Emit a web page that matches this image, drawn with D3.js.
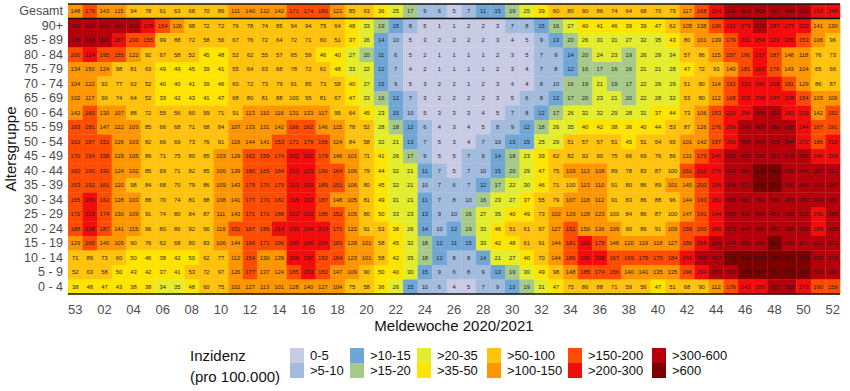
<!DOCTYPE html>
<html><head><meta charset="utf-8">
<script src="https://cdn.jsdelivr.net/npm/d3@7"></script>
<style>
html,body{margin:0;padding:0;background:#fff;}
svg{display:block;font-family:"Liberation Sans",Arial,sans-serif;}
</style></head>
<body><svg id="c" width="850" height="391"></svg>
<script>
const weeks = ["53","01","02","03","04","05","06","07","08","09","10","11","12","13","14","15","16","17","18","19","20","21","22","23","24","25","26","27","28","29","30","31","32","33","34","35","36","37","38","39","40","41","42","43","44","45","46","47","48","49","50","51","52"];
const xTickLabels = ["53","02","04","06","08","10","12","14","16","18","20","22","24","26","28","30","32","34","36","38","40","42","44","46","48","50","52"];
const ageGroups = ["Gesamt","90+","85 - 89","80 - 84","75 - 79","70 - 74","65 - 69","60 - 64","55 - 59","50 - 54","45 - 49","40 - 44","35 - 39","30 - 34","25 - 29","20 - 24","15 - 19","10 - 14","5 - 9","0 - 4"];

const gesamt = [148,179,143,115,94,78,61,63,68,70,86,111,140,132, 142,171,174,180,121,85,63,36,25,17,9,6,5, 7,11,15,19,25,39,60,80,90,86,74,64,68, 70,79,117,168,214,326,423,458,467,406,320,233,248];
const age90 = [390,550,506,461,341,229,154,126,98,72,72,76,78,74, 85,94,94,75,64,48,33,19,15,8,5,1,1, 2,2,3,7,8,15,16,27,40,41,46,39,39, 47,62,105,138,196,221,279,316,287,273,222,141,130];
const age85 = [336,368,326,267,200,155,99,88,72,58,56,67,76,72, 64,72,71,60,51,37,26,14,10,5,3,2,2, 2,2,3,4,5,9,13,20,26,31,31,27,32, 35,43,80,101,139,179,231,254,223,205,153,106,96];
const age80 = [200,224,195,155,122,92,67,58,52,45,48,52,62,55, 57,65,59,46,40,27,20,11,6,5,2,1,1, 1,1,2,3,5,7,9,14,20,24,23,19,26, 29,34,57,86,115,157,196,217,187,148,118,76,73];
const age75 = [134,150,124,98,81,63,49,49,45,39,41,55,64,63, 68,78,72,61,48,33,22,12,7,4,2,1,1, 1,1,2,3,4,7,8,12,16,17,16,16,21, 21,28,47,72,93,140,181,202,176,143,104,65,66];
const age70 = [104,122,92,77,62,52,40,40,41,39,46,60,72,73, 79,91,85,73,58,40,27,15,9,5,3,2,2, 1,2,3,4,4,8,10,16,19,21,19,17,22, 26,29,51,80,114,163,220,240,218,181,129,86,87];
const age65 = [102,117,90,74,64,52,39,42,43,41,47,68,80,81, 88,100,95,81,67,47,33,16,12,7,3,2,2, 2,2,3,5,6,8,12,17,20,23,21,20,22, 28,32,53,80,112,168,225,258,247,208,154,103,106];
const age60 = [142,160,130,107,88,72,55,56,60,59,71,91,113,110, 116,131,133,117,95,64,45,23,15,10,5,3,3, 3,4,5,7,8,12,17,26,32,32,29,28,31, 37,44,73,106,153,223,294,346,332,282,215,142,152];
const age55 = [163,181,147,122,103,85,66,68,71,68,84,107,133,131, 142,166,162,146,115,78,52,28,18,12,6,4,3, 4,5,8,9,12,18,26,35,40,42,38,36,40, 44,53,87,126,176,266,343,400,380,318,244,167,191];
const age50 = [162,187,151,126,103,82,66,69,73,76,91,116,144,141, 153,171,179,156,124,84,58,32,21,13,7,5,3, 4,7,10,13,15,25,29,51,57,57,51,45,51, 54,65,101,142,197,290,388,440,415,344,272,186,215];
const age45 = [170,194,158,129,105,89,71,75,80,85,103,129,162,159, 174,202,202,179,146,101,71,41,26,17,9,5,5, 7,9,14,18,23,39,62,82,92,90,75,66,69, 76,86,131,179,241,380,486,536,521,478,343,240,258];
const age40 = [160,190,190,124,102,85,69,71,82,85,106,139,180,165, 184,213,215,190,164,106,79,44,32,21,11,7,5, 7,10,15,20,29,47,75,103,113,108,89,78,83, 87,100,151,211,276,419,580,609,643,560,443,367,323];
const age35 = [153,192,161,120,98,84,68,70,79,86,109,143,179,170, 179,213,203,189,151,106,80,45,32,21,10,7,6, 7,12,17,22,30,46,71,100,113,110,91,80,86, 89,101,145,200,266,400,531,628,630,500,466,326,347];
const age30 = [165,206,162,128,103,88,70,74,81,88,108,141,177,170, 182,215,202,187,148,105,81,49,31,21,11,7,8, 10,16,23,27,37,55,79,107,118,112,91,83,86, 88,96,144,193,250,365,481,554,536,483,387,304,363];
const age25 = [172,219,174,130,109,91,74,80,84,87,111,143,171,171, 188,222,220,188,152,105,80,50,33,23,13,9,10, 16,27,35,40,49,73,102,129,128,123,100,84,86, 87,100,147,191,244,350,431,468,482,388,332,290,388];
const age20 = [188,238,187,141,115,96,80,86,92,96,119,151,187,186, 214,233,246,210,171,122,91,53,38,26,14,10,12, 19,33,46,51,61,97,127,151,150,136,109,90,89, 91,109,159,200,260,373,447,489,482,398,360,288,428];
const age15 = [129,165,140,109,90,76,62,68,80,83,106,144,166,171, 196,280,266,224,183,128,101,58,45,32,18,12,11, 15,33,42,48,61,91,144,181,202,178,146,120,119, 118,127,180,258,336,478,566,591,629,530,407,312,373];
const age10 = [71,89,73,60,50,46,38,42,50,62,77,112,154,130, 139,206,236,193,164,123,101,58,42,35,18,12,8, 8,14,21,27,40,70,144,186,236,208,167,169,179, 175,184,241,360,417,735,843,1062,1153,971,758,495,378];
const age5 = [52,63,58,50,43,42,37,41,53,72,97,126,177,137, 124,185,233,182,147,109,90,50,40,30,15,9,6, 8,9,13,19,30,49,98,148,185,174,156,140,141, 135,135,196,294,358,541,680,868,860,686,733,503,347];
const age0 = [38,48,47,43,38,38,34,35,48,60,75,102,127,113, 101,128,140,127,104,75,58,36,26,15,10,6,4, 5,7,9,13,19,31,47,75,86,88,71,59,56, 47,51,68,90,112,179,242,289,305,308,273,190,159];

const rowValues = [gesamt,age90,age85,age80,age75,age70,age65,age60,age55,age50,age45,age40,age35,age30,age25,age20,age15,age10,age5,age0];

const legendLabels = ["0-5",">5-10",">10-15",">15-20",">20-35",">35-50",">50-100",">100-150",">150-200",">200-300",">300-600",">600"];
const thresholds = [5.5,10.5,15.5,20.5,35.5,50.5,100.5,150.5,200.5,300.5,600.5];
const colors = ["#C9CBE4","#A3BCDE","#6FA6D6","#A7CA8B","#E3EC2D","#FFE400","#FFC20D","#FF9600","#FF4C00","#F20D0D","#B5000C","#7C0000"];

const svg = d3.select("#c");
const margin = {left:68, right:10, top:4, bottom:97};
const W = 850, H = 391;
const x = d3.scaleBand().domain(weeks).range([margin.left, W - margin.right]).padding(0);
const y = d3.scaleBand().domain(ageGroups).range([margin.top, H - margin.bottom]).padding(0);
const color = d3.scaleThreshold().domain(thresholds).range(colors);

const cells = [];
ageGroups.forEach((g,i)=>{ rowValues[i].forEach((v,j)=>{ cells.push({g, w:weeks[j], v}); }); });

const gC = svg.append("g");
gC.selectAll("rect").data(cells).join("rect")
  .attr("x", d=>x(d.w)).attr("y", d=>y(d.g))
  .attr("width", x.bandwidth()+0.3).attr("height", y.bandwidth()+0.3)
  .attr("fill", d=>color(d.v));
gC.selectAll("text").data(cells).join("text")
  .attr("x", d=>x(d.w)+x.bandwidth()/2).attr("y", d=>y(d.g)+y.bandwidth()/2)
  .attr("text-anchor","middle").attr("dy","0.35em")
  .attr("font-size","5.8px").attr("fill","#1e1e1e")
  .text(d=>d.v);

// separator lines
const lines = [y("Gesamt"), y("90+"), y.range()[1]];
svg.selectAll("line.sep").data(lines).join("line").attr("class","sep")
  .attr("x1", x.range()[0]).attr("x2", x.range()[1])
  .attr("y1", d=>d).attr("y2", d=>d)
  .attr("stroke","#111").attr("stroke-width",1.6);

// axes
const xAxis = d3.axisBottom(x).tickValues(xTickLabels).tickSize(0).tickPadding(11);
const gx = svg.append("g").attr("transform",`translate(0,${y.range()[1]})`).call(xAxis);
gx.select(".domain").remove();
gx.selectAll("text").attr("font-size","13px").attr("fill","#4d4d4d").attr("font-family","Liberation Sans, Arial, sans-serif");

const yAxis = d3.axisLeft(y).tickSize(0).tickPadding(5);
const gy = svg.append("g").attr("transform",`translate(${x.range()[0]},0)`).call(yAxis);
gy.select(".domain").remove();
gy.selectAll("text").attr("font-size","12.5px").attr("fill","#4d4d4d").attr("font-family","Liberation Sans, Arial, sans-serif");

svg.append("text").attr("x",(x.range()[0]+x.range()[1])/2).attr("y",331)
  .attr("text-anchor","middle").attr("font-size","15px").attr("fill","#111")
  .text("Meldewoche 2020/2021");
svg.append("text").attr("transform",`translate(16,${(y.range()[0]+y.range()[1])/2}) rotate(-90)`)
  .attr("text-anchor","middle").attr("font-size","15px").attr("fill","#111")
  .text("Altersgruppe");

// legend
const lg = svg.append("g");
lg.append("text").attr("x",190).attr("y",361).attr("font-size","15px").attr("fill","#111").text("Inzidenz");
lg.append("text").attr("x",190).attr("y",382).attr("font-size","15px").attr("fill","#111").text("(pro 100.000)");
const keyX = [290,350,417,487,568,652];
const keyTop = 348, keyH = 15, keyW = 14;
legendLabels.forEach((lab,i)=>{
  const col = Math.floor(i/2), row = i%2;
  const kx = keyX[col], ky = keyTop + row*keyH;
  lg.append("rect").attr("x",kx).attr("y",ky).attr("width",keyW).attr("height",keyH).attr("fill",colors[i]);
  lg.append("text").attr("x",kx+20).attr("y",ky+keyH/2).attr("dy","0.35em")
    .attr("font-size","13px").attr("fill","#111").text(lab);
});
</script></body></html>
